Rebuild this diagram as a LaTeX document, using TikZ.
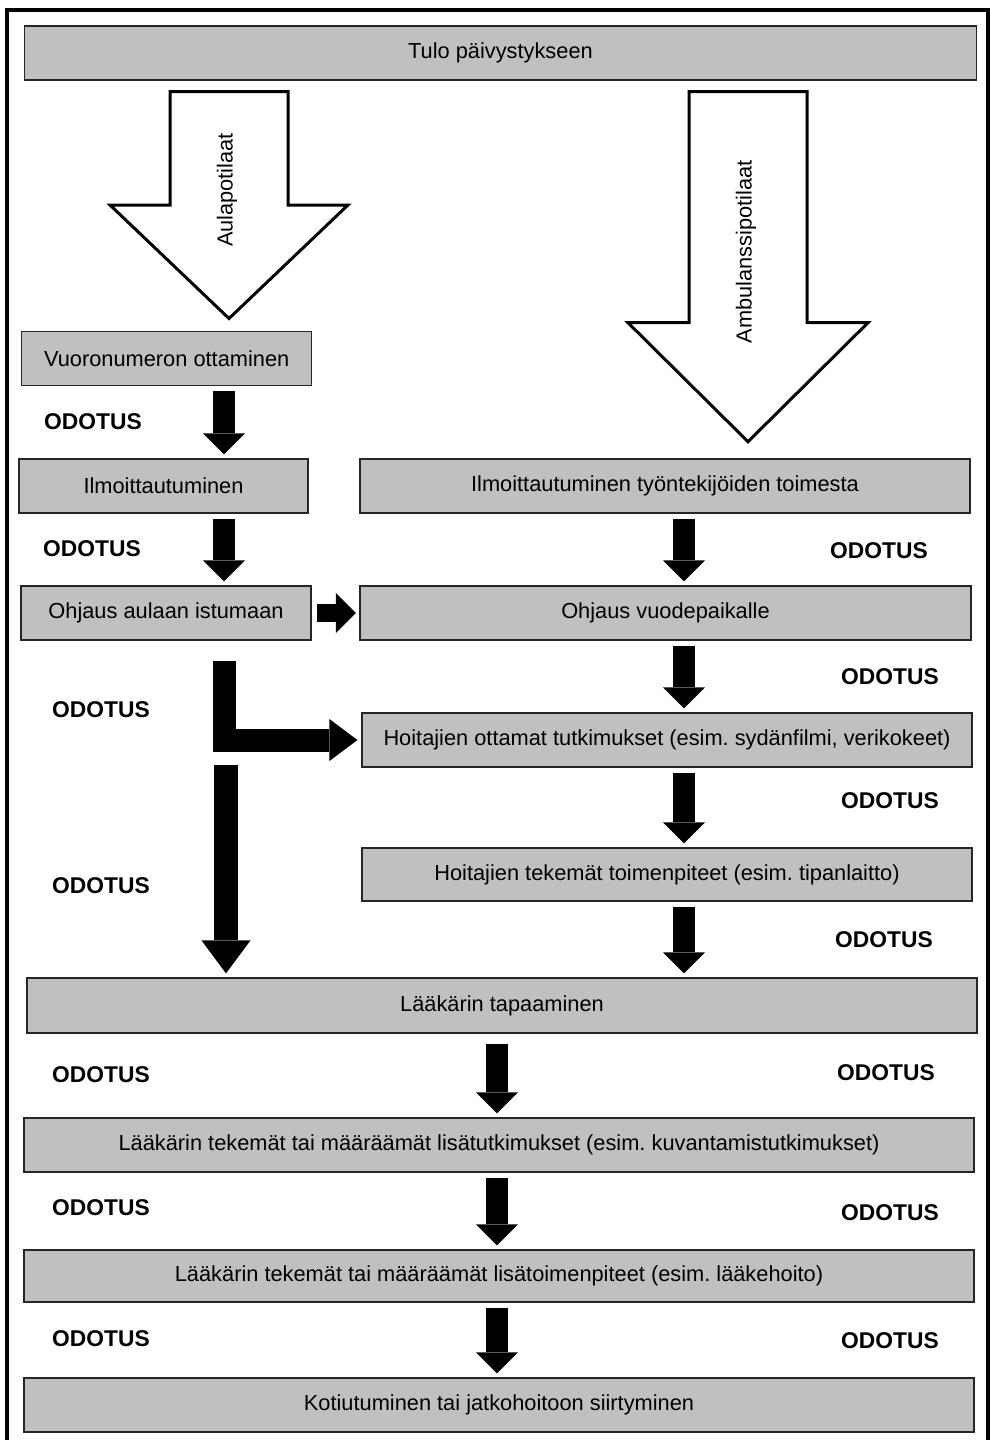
\documentclass[tikz,border=0pt]{standalone}
\usepackage{fontspec}
\setmainfont{Liberation Sans}
\usetikzlibrary{arrows.meta}
\definecolor{boxgray}{HTML}{C0C0C0}
\frenchspacing
\begin{document}
\begin{tikzpicture}[x=1pt,y=-1pt,font=\fontsize{21.8}{24}\selectfont,
            box/.style={draw=black!85,fill=boxgray,line width=1.2pt,minimum height=54pt,inner sep=0pt},
            odotus/.style={font=\fontsize{22.8}{25}\selectfont\bfseries},
            blk/.style={line width=22pt,-{Triangle[width=42pt,length=21pt,line width=0pt]},shorten <=5pt,shorten >=4pt},
            hollow/.style={draw,line width=3pt,fill=white,line join=miter}]

        \useasboundingbox (0,0) rectangle (990,1440);
        \draw[line width=4.5pt,line join=miter] (7.2,1460) |- (988.5,10) -- (988.5,1460);

        % Define columns
        \coordinate (lc) at (224,0);
        \coordinate (rc) at (684,0);
        \coordinate (mc) at (497,0);
        \coordinate (lstart) at (226,765);

        % Hollow arrows
        \draw[hollow] (170,91.5) -- (288,91.5) -- (288,205) -- (348,205) -- (229,318.5) -- (110,205) -- (170,205) -- cycle;
        \node[rotate=90] (aula) at (227,190) {Aulapotilaat};
        \draw[hollow] (689,91.5) -- (807,91.5) -- (807,322.7) -- (868,322.7) -- (748,441.7) -- (628,322.7) -- (689,322.7) -- cycle;
        \node[rotate=90] (ambu) at (746,252) {Ambulanssipotilaat};

        % Define boxes
        \node[box,minimum width=952pt] (tulo) at (500.5,53) {Tulo päivystykseen};
        \node[box,minimum width=290pt] (vuoro) at (166.7,358.8) {Vuoronumeron ottaminen};
        \node[box,minimum width=289pt] (ilmo) at (163.5,486) {Ilmoittautuminen};
        \node[box,minimum width=290pt] (aulaan) at (166,613) {Ohjaus aulaan istumaan};
        \node[box,minimum width=610pt] (ilmotyo) at (665,486) {Ilmoittautuminen työntekijöiden toimesta};
        \node[box,minimum width=611pt] (vuode) at (665.5,613) {Ohjaus vuodepaikalle};
        \node[box,minimum width=610pt] (tutk) at (667,740) {Hoitajien ottamat tutkimukset (esim. sydänfilmi, verikokeet)};
        \node[box,minimum width=610pt,minimum height=53pt] (toim) at (667,874.5) {Hoitajien tekemät toimenpiteet (esim. tipanlaitto)};
        \node[box,minimum width=950pt,minimum height=55pt] (laak) at (502,1005.5) {Lääkärin tapaaminen};
        \node[box,minimum width=950pt] (lisatut) at (499,1145) {Lääkärin tekemät tai määräämät lisätutkimukset (esim. kuvantamistutkimukset)};
        \node[box,minimum width=950pt,minimum height=52pt] (lisatoim) at (499,1276) {Lääkärin tekemät tai määräämät lisätoimenpiteet (esim. lääkehoito)};
        \node[box,minimum width=950pt] (koti) at (499,1405) {Kotiutuminen tai jatkohoitoon siirtyminen};

        % Waiting labels
        \foreach \x/\y [count=\i] in {93/422,92/549,101/710,101/886,101/1075,101/1208,101/1339,
                                      879/551,890/677,890/801,884/940,886/1073,890/1213,890/1341}
            \node[odotus] (od\i) at (\x,\y) {ODOTUS};

        % Draw arrows
        \draw[blk] (vuoro.south -| lc) -- (ilmo.north -| lc);
        \draw[blk] (ilmo.south -| lc) -- (aulaan.north -| lc);
        \draw[blk,line width=18pt,-{Triangle[width=40pt,length=20pt,line width=0pt]},shorten <=5.5pt,shorten >=3.5pt] (aulaan.east) -- (vuode.west);
        \draw[blk,line width=23pt,line join=miter,-{Triangle[width=42pt,length=28pt,line width=0pt]},shorten <=20pt] (aulaan.south -| lc) |- (tutk.west);
        \draw[blk,line width=24pt,-{Triangle[width=49pt,length=33pt,line width=0pt]},shorten <=0pt] (lstart) -- (laak.north -| lstart);
        \draw[blk] (ilmotyo.south -| rc) -- (vuode.north -| rc);
        \draw[blk] (vuode.south -| rc) -- (tutk.north -| rc);
        \draw[blk] (tutk.south -| rc) -- (toim.north -| rc);
        \draw[blk] (toim.south -| rc) -- (laak.north -| rc);
        \draw[blk,shorten <=10pt] (laak.south -| mc) -- (lisatut.north -| mc);
        \draw[blk] (lisatut.south -| mc) -- (lisatoim.north -| mc);
        \draw[blk] (lisatoim.south -| mc) -- (koti.north -| mc);

\end{tikzpicture}
\end{document}
